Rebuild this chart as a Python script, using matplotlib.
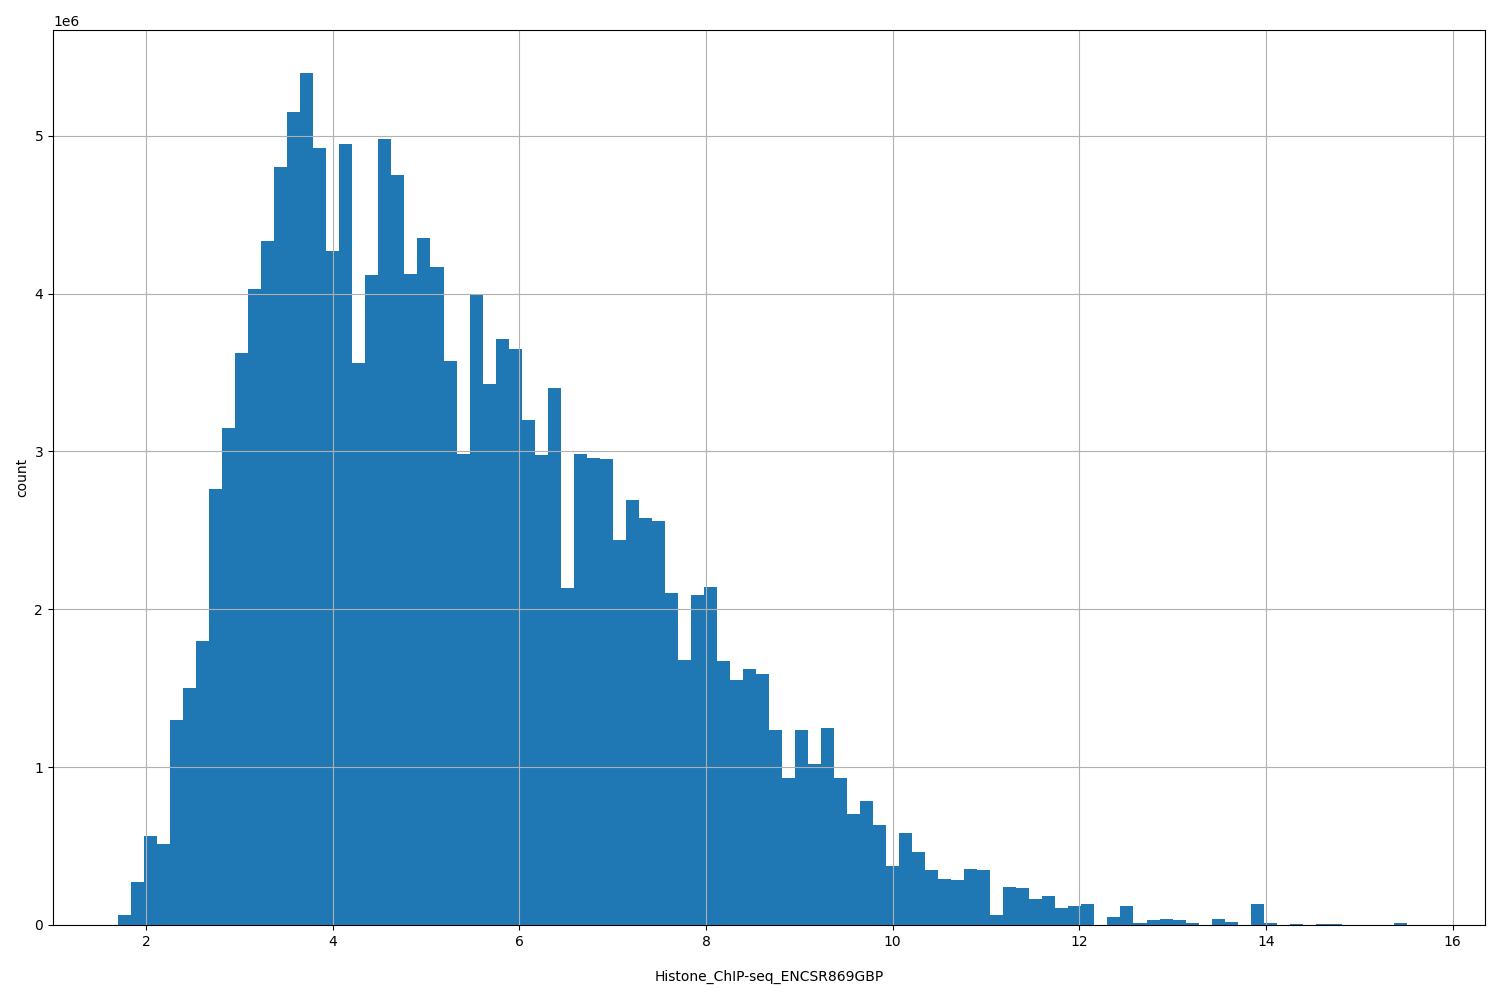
import numpy as np
import matplotlib as mpl
mpl.use('Agg')
import matplotlib.pyplot as plt

# histogram range and bin count
x_lo = 1.70
x_hi = 15.65
n_bins = 100

# bin counts (in millions)
counts_m = [
    0.065, 0.27, 0.565, 0.51, 1.30, 1.50, 1.80, 2.76, 3.15, 3.625,
    4.03, 4.335, 4.80, 5.15, 5.40, 4.92, 4.27, 4.95, 3.56, 4.12,
    4.98, 4.75, 4.125, 4.355, 4.17, 3.575, 2.985, 3.99, 3.43, 3.71,
    3.65, 3.20, 2.98, 3.40, 2.135, 2.985, 2.96, 2.955, 2.44, 2.69,
    2.58, 2.56, 2.105, 1.68, 2.09, 2.14, 1.67, 1.55, 1.62, 1.59,
    1.235, 0.93, 1.235, 1.02, 1.25, 0.93, 0.705, 0.785, 0.635, 0.375,
    0.585, 0.465, 0.35, 0.29, 0.285, 0.355, 0.35, 0.065, 0.24, 0.235,
    0.165, 0.185, 0.11, 0.12, 0.135, 0.0, 0.05, 0.12, 0.015, 0.033,
    0.038, 0.033, 0.015, 0.0, 0.04, 0.02, 0.0, 0.13, 0.012, 0.0,
    0.006, 0.0, 0.006, 0.006, 0.0, 0.0, 0.0, 0.0, 0.012, 0.0005,
]

xlabel = "Histone_ChIP-seq_ENCSR869GBP"
ylabel = "count"

edges = np.histogram_bin_edges([x_lo, x_hi], bins=n_bins, range=(x_lo, x_hi))
centers = (edges[:-1] + edges[1:]) / 2
weights = np.array(counts_m) * 1e6

fig, ax = plt.subplots(figsize=(15, 10), dpi=100)
ax.hist(centers, bins=edges, weights=weights, color="#1f77b4")
ax.grid(True)
ax.set_xlabel(xlabel, labelpad=15)
ax.set_ylabel(ylabel)

plt.subplots_adjust(left=0.0353, right=0.99, top=0.97, bottom=0.075)
plt.savefig("out.png", dpi=100)
